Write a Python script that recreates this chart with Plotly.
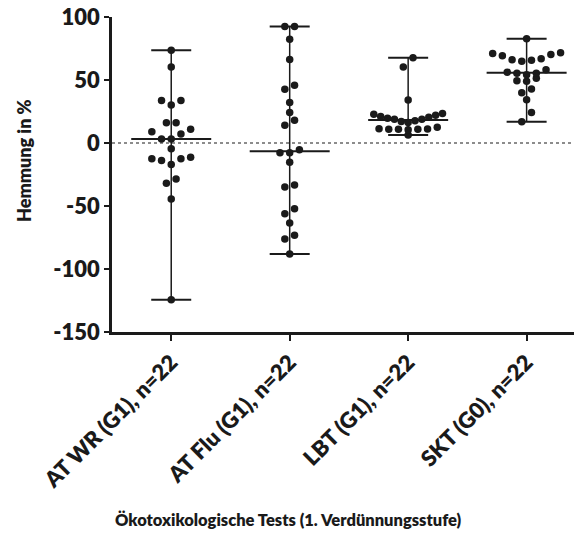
import numpy as np
import plotly.graph_objects as go

categories = ["AT WR (G1), n=22", "AT Flu (G1), n=22", "LBT (G1), n=22", "SKT (G0), n=22"]
at_wr = [73.7, 60.4, 33.8, 33.8, 30.1, 16.0, 16.0, 10.9, 9.0, 7.2, 3.2, 3.2, -4.5,
         -11.4, -12.5, -12.5, -13.8, -17.0, -28.5, -32.0, -44.5, -124.4]
at_flu = [92.4, 92.4, 82.3, 66.3, 45.8, 42.6, 32.2, 24.2, 18.1, 14.1, -5.3, -7.7, -7.7,
          -15.2, -33.3, -34.9, -52.2, -56.2, -63.4, -73.2, -76.2, -88.1]
lbt = [67.6, 60.4, 34.1, 23.4, 22.9, 22.1, 21.0, 20.5, 19.7, 18.9, 18.9, 17.6, 17.0,
       16.2, 12.5, 11.4, 11.2, 10.9, 10.9, 10.9, 10.6, 6.4]
skt = [82.8, 71.6, 71.1, 70.3, 69.2, 66.8, 66.0, 65.7, 64.9, 58.1, 56.2, 55.4, 55.4,
       54.1, 51.4, 49.5, 49.0, 42.9, 39.9, 34.3, 24.2, 16.8]
groups = [at_wr, at_flu, lbt, skt]
y_ticks = [-150, -100, -50, 0, 50, 100]

W, H = 575, 554
ML, MR, MT, MB = 112, 1, 17, 222
XR = [-0.5, 3.4]
PX = (W - ML - MR) / (XR[1] - XR[0])   # pixels per category unit

ROW_W = 7.8      # value span grouped in one row
SLOT = 9.7       # px between neighbouring dots
MAXW = 68.7      # max row width in px


def make_rows(v, w):
    v = sorted(v)
    if len(v) <= 1 or v[-1] - v[0] <= w:
        return [v]
    k = int(np.argmax(np.diff(v)))
    return make_rows(v[:k + 1], w) + make_rows(v[k + 1:], w)


def swarm(vals, center):
    xs, ys = [], []
    for row in make_rows(vals, ROW_W):
        n = len(row)
        s = SLOT if n < 2 else min(SLOT, MAXW / (n - 1))
        if n % 2:
            slots = [0] + [m * sgn for m in range(1, n) for sgn in (-1, 1)]
        else:
            slots = [(m + 0.5) * sgn for m in range(n) for sgn in (-1, 1)]
        for val, sl in zip(row, slots[:n]):
            xs.append(center + sl * s / PX)
            ys.append(val)
    return xs, ys


ink = "#1a1a1a"
fig = go.Figure()

lx, ly, cx, cy = [], [], [], []
for i, g in enumerate(groups):
    lo, hi, med = min(g), max(g), float(np.median(g))
    lx += [i, i, None]
    ly += [lo, hi, None]
    cap = 20 / PX
    mw = 40 / PX
    cx += [i - cap, i + cap, None, i - cap, i + cap, None, i - mw, i + mw, None]
    cy += [lo, lo, None, hi, hi, None, med, med, None]

fig.add_trace(go.Scatter(x=lx, y=ly, mode="lines", line=dict(color=ink, width=1.5),
                         hoverinfo="skip", showlegend=False))
fig.add_trace(go.Scatter(x=cx, y=cy, mode="lines", line=dict(color=ink, width=2),
                         hoverinfo="skip", showlegend=False))

for i, g in enumerate(groups):
    xs, ys = swarm(g, i)
    fig.add_trace(go.Scatter(x=xs, y=ys, mode="markers",
                             marker=dict(size=7.5, color=ink, line=dict(width=0)),
                             showlegend=False, name=categories[i]))

fig.add_shape(type="line", xref="paper", yref="y", x0=0, x1=1, y0=0, y1=0,
              line=dict(color=ink, width=1.2, dash="dot"), layer="below")

font_fam = "Lato"
WT = 800
fig.update_layout(
    width=W, height=H,
    margin=dict(l=ML, r=MR, t=MT, b=MB, pad=0),
    paper_bgcolor="white", plot_bgcolor="white",
    font=dict(family=font_fam, color=ink, size=17, weight=WT),
    xaxis=dict(range=XR, tickmode="array", tickvals=list(range(len(categories))),
               ticktext=categories, tickangle=-45,
               showline=True, linecolor=ink, linewidth=2.5, ticks="outside",
               ticklen=6, tickwidth=2, tickcolor=ink, showgrid=False, zeroline=False,
               tickfont=dict(size=22, family=font_fam, color=ink, weight=WT)),
    yaxis=dict(range=[-150, 100], tickmode="array", tickvals=y_ticks,
               ticktext=[str(t) for t in y_ticks],
               showline=True, linecolor=ink, linewidth=2.5, ticks="outside",
               ticklen=5, tickwidth=2, tickcolor=ink, showgrid=False, zeroline=False,
               tickfont=dict(size=22, family=font_fam, color=ink, weight=WT)),
)

ph = H - MT - MB
pw = W - ML - MR
fig.add_annotation(text="Ökotoxikologische Tests (1. Verdünnungsstufe)",
                   xref="paper", yref="paper", x=(288 - ML) / pw, y=(H - MB - 520) / ph,
                   showarrow=False, xanchor="center", yanchor="middle",
                   font=dict(size=16.5, family=font_fam, color=ink, weight=WT))
fig.add_annotation(text="Hemmung in %", textangle=-90,
                   xref="paper", yref="paper", x=(24 - ML) / pw, y=(H - MB - 161) / ph,
                   showarrow=False, xanchor="center", yanchor="middle",
                   font=dict(size=18, family=font_fam, color=ink, weight=WT))

fig.write_html("out.html")
